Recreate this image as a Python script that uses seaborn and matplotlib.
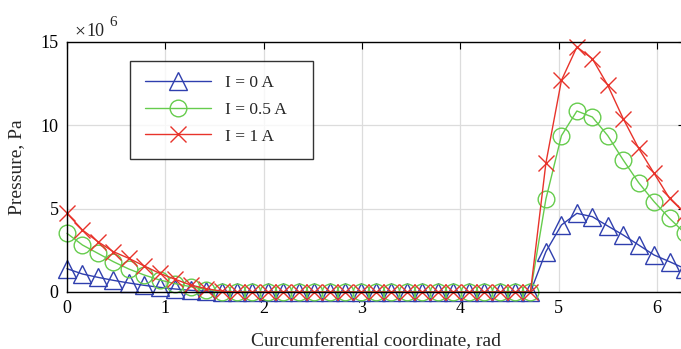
import numpy as np
import pandas as pd
import seaborn as sns
from matplotlib import pyplot as plt

sns.set_theme(style="whitegrid")
plt.rcParams["font.family"] = ["Liberation Serif", "DejaVu Serif"]

# circumferential coordinate, rad (41 samples over one revolution)
coord = [0.000, 0.157, 0.314, 0.471, 0.628, 0.785, 0.942, 1.100, 1.257, 1.414,
         1.571, 1.728, 1.885, 2.042, 2.199, 2.356, 2.513, 2.670, 2.827, 2.985,
         3.142, 3.299, 3.456, 3.613, 3.770, 3.927, 4.084, 4.241, 4.398, 4.555,
         4.712, 4.869, 5.027, 5.184, 5.341, 5.498, 5.655, 5.812, 5.969, 6.126,
         6.283]

# pressure, x 1e6 Pa
p_0A = [1.40, 1.08, 0.88, 0.70, 0.54, 0.40, 0.28, 0.18, 0.10, 0.05,
        0.01, 0, 0, 0, 0, 0, 0, 0, 0, 0,
        0, 0, 0, 0, 0, 0, 0, 0, 0, 0,
        0, 2.42, 4.02, 4.72, 4.52, 3.96, 3.42, 2.82, 2.22, 1.82,
        1.40]
p_05A = [3.52, 2.82, 2.32, 1.82, 1.38, 1.02, 0.72, 0.50, 0.32, 0.15,
         0.03, 0, 0, 0, 0, 0, 0, 0, 0, 0,
         0, 0, 0, 0, 0, 0, 0, 0, 0, 0,
         0, 5.58, 9.38, 10.86, 10.50, 9.38, 7.92, 6.56, 5.42, 4.42,
         3.52]
p_1A = [4.72, 3.72, 3.02, 2.42, 2.02, 1.56, 1.12, 0.76, 0.42, 0.20,
        0.05, 0, 0, 0, 0, 0, 0, 0, 0, 0,
        0, 0, 0, 0, 0, 0, 0, 0, 0, 0,
        0, 7.74, 12.70, 14.70, 14.00, 12.40, 10.40, 8.62, 7.12, 5.62,
        4.72]

labels = ["I = 0 A", "I = 0.5 A", "I = 1 A"]
series = [p_0A, p_05A, p_1A]
colors = ["#2f3fae", "#66cc4d", "#e8332b"]
markers = ["^", "o", "x"]
msizes = [13, 12, 12]

fig = plt.figure(figsize=(6.81, 3.49), dpi=100)
ax = fig.add_axes([67 / 681, 57 / 349, 618 / 681, 250 / 349])

for lab, vals, col, mk, ms in zip(labels, series, colors, markers, msizes):
    sns.lineplot(ax=ax, x=coord, y=vals, color=col, label=lab, marker=mk,
                 markersize=ms, markerfacecolor="none", markeredgecolor=col,
                 markeredgewidth=1.0, linewidth=1.0, clip_on=False)

ax.set_xlim(0, 2 * np.pi)
ax.set_ylim(0, 15)
ax.set_xticks([0, 1, 2, 3, 4, 5, 6])
ax.set_yticks([0, 5, 10, 15])
ax.grid(True, color="#dcdcdc", linewidth=0.9)
ax.set_facecolor("white")
for s in ax.spines.values():
    s.set_color("black")
    s.set_linewidth(1.0)
    s.set_zorder(3)
ax.tick_params(direction="in", length=5, width=0.8, top=True, right=True,
               labelsize=13, colors="black", pad=6)

ax.set_xlabel("Curcumferential coordinate, rad", fontsize=14, labelpad=11)
ax.set_ylabel("Pressure, Pa", fontsize=14, labelpad=11)

fig.text(74 / 681, 1 - 32 / 349, "\u00d7", fontsize=14, va="center", ha="left")
fig.text(86 / 681, 1 - 31 / 349, "10", fontsize=13, va="center", ha="left")
fig.text(109 / 681, 1 - 22 / 349, "6", fontsize=11, va="center", ha="left")

leg = ax.legend(loc="upper left", bbox_to_anchor=(63 / 618, 1 - 21 / 250, 183 / 618, 0.01),
                mode="expand", fontsize=12.5, frameon=True, fancybox=False,
                handlelength=3.8, handletextpad=0.8, borderpad=0.85,
                labelspacing=0.6, borderaxespad=0)
leg.get_frame().set_edgecolor("black")
leg.get_frame().set_linewidth(1.0)
leg.set_zorder(5)

plt.savefig("out.png", dpi=100)
